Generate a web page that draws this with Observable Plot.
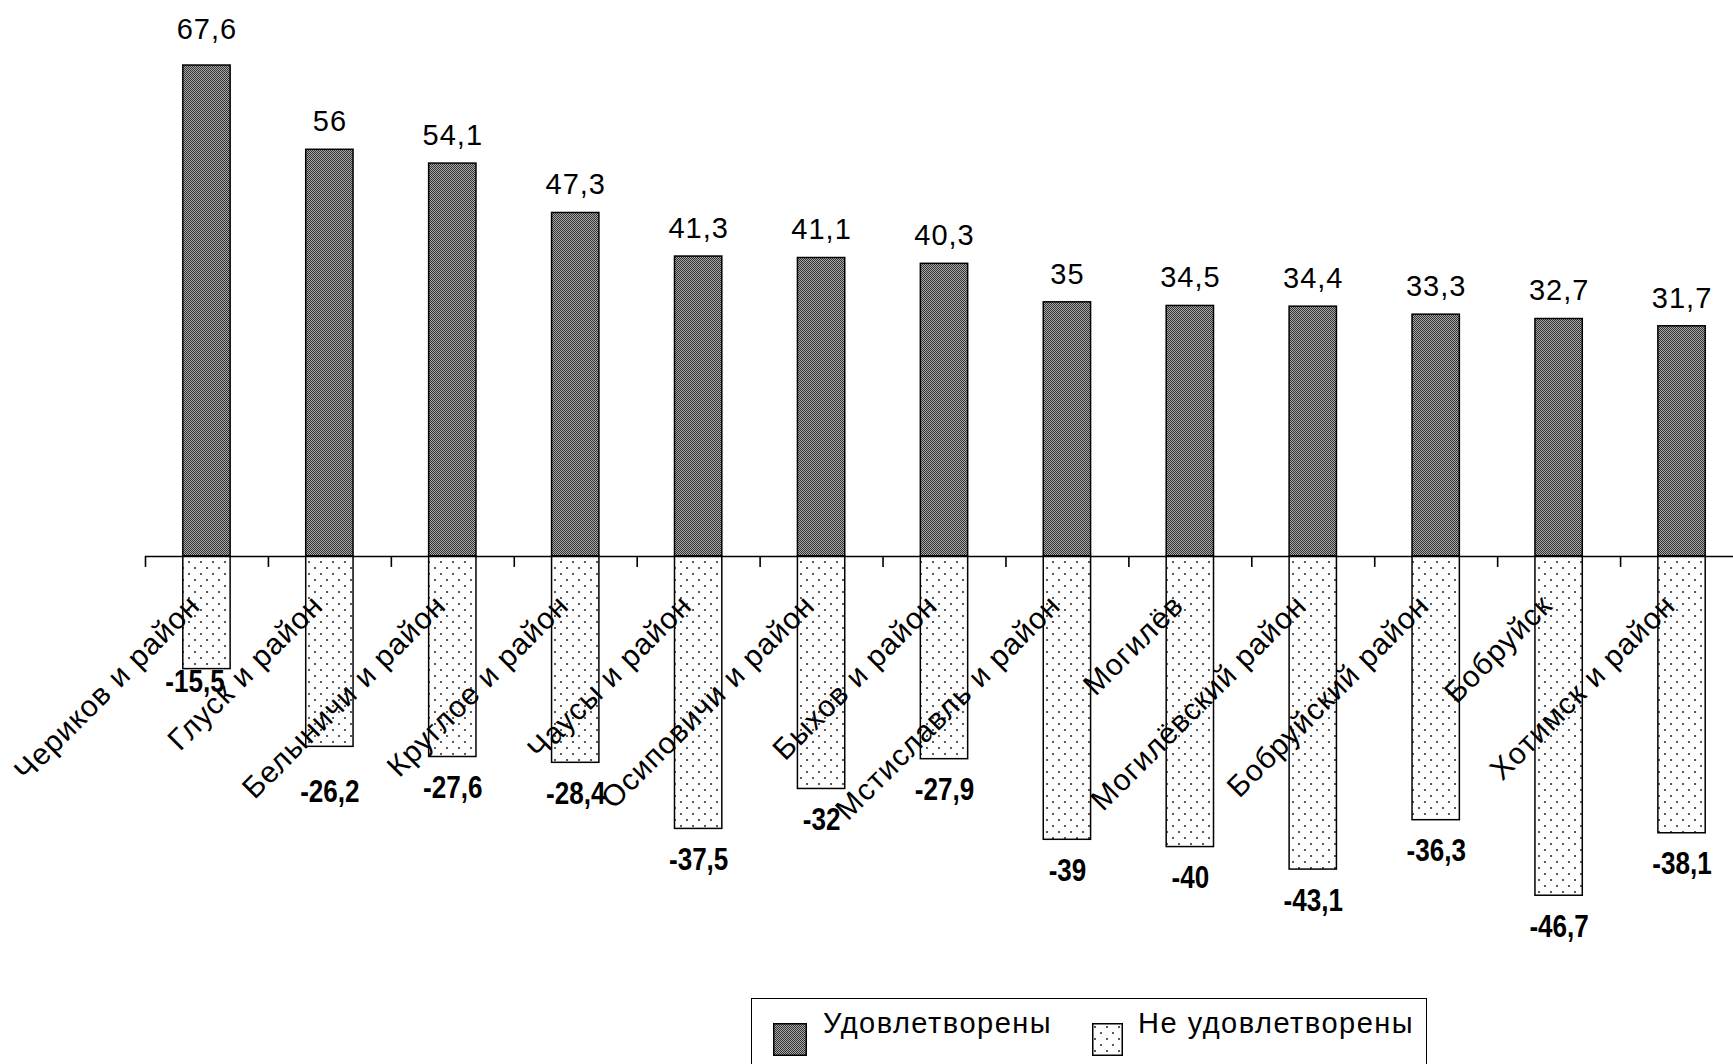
<!DOCTYPE html>
<html>
<head>
<meta charset="utf-8">
<script src="https://cdn.jsdelivr.net/npm/d3@7"></script>
<script src="https://cdn.jsdelivr.net/npm/@observablehq/plot@0.6"></script>
<style>
  html, body { margin: 0; padding: 0; background: #fff; }
  body { width: 1733px; height: 1064px; overflow: hidden; position: relative; font-family: "Liberation Sans", Arial, sans-serif; }
  #chart svg { display: block; }
  #legend { position: absolute; left: 751px; top: 998px; width: 676px; height: 100px; border: 1.5px solid #000; box-sizing: border-box; background: #fff; }
  #legend .sw { position: absolute; top: 24px; width: 34px; height: 33px; }
  #legend .lbl { position: absolute; top: 8px; font-size: 29px; letter-spacing: 1.5px; color: #000; white-space: nowrap; }
</style>
</head>
<body>
<div id="chart"></div>
<div id="legend">
  <svg class="sw" style="left:21px" width="34" height="33"><rect x="0.75" y="0.75" width="32.5" height="31.5" fill="url(#patPos)" stroke="#000" stroke-width="1.5"/></svg>
  <span class="lbl" id="lbl0" style="left:71px"></span>
  <svg class="sw" style="left:340px" width="31" height="33"><rect x="0.75" y="0.75" width="29.5" height="31.5" fill="url(#patNeg)" stroke="#000" stroke-width="1.5"/></svg>
  <span class="lbl" id="lbl1" style="left:386px"></span>
</div>
<script>
// ---- data ----
const categories = ["Чериков и район", "Глуск и район", "Белыничи и район", "Круглое и район", "Чаусы и район", "Осиповичи и район", "Быхов и район", "Мстиславль и район", "Могилёв", "Могилёвский район", "Бобруйский район", "Бобруйск", "Хотимск и район"];
const satisfied = [67.6, 56, 54.1, 47.3, 41.3, 41.1, 40.3, 35, 34.5, 34.4, 33.3, 32.7, 31.7];
const notSatisfied = [-15.5, -26.2, -27.6, -28.4, -37.5, -32, -27.9, -39, -40, -43.1, -36.3, -46.7, -38.1];
const seriesNames = ["Удовлетворены", "Не удовлетворены"];

const rows = categories.map((c, i) => ({cat: c, pos: satisfied[i], neg: notSatisfied[i], i}));
const fmt = v => String(v).replace(".", ",");

const boldFont = "'Liberation Sans', Arial, sans-serif";
const step = 1598 / categories.length;

const chart = Plot.plot({
  width: 1733,
  height: 998,
  marginLeft: 145,
  marginRight: 0,
  marginTop: 0,
  marginBottom: 0,
  x: {domain: categories, range: [145, 1743], paddingInner: 0.615, paddingOuter: 0.3075, round: false, axis: null},
  y: {domain: [-50, 70], range: [919.2, 47.6], axis: null},
  style: {fontFamily: "'Liberation Sans', Arial, sans-serif", fontSize: "28px", color: "#000", background: "#fff", overflow: "hidden"},
  marks: [
    Plot.barY(rows, {x: "cat", y1: 0, y2: "pos", fill: "url(#patPos)", stroke: "#000", strokeWidth: 1.5}),
    Plot.barY(rows, {x: "cat", y1: 0, y2: "neg", fill: "url(#patNeg)", stroke: "#000", strokeWidth: 1.5}),
    Plot.ruleY([0], {stroke: "#000", strokeWidth: 1.6}),
    Plot.ruleX(rows, {x: "cat", y1: 0, y2: -1.5, dx: -step / 2, stroke: "#000", strokeWidth: 1.6}),
    Plot.text(rows, {x: "cat", y: d => 0, text: "cat", rotate: -45, textAnchor: "end", dx: -12, dy: 44, fontSize: 30, fill: "#000"}),
    Plot.text(rows.filter(d => d.i > 0), {x: "cat", y: "pos", text: d => fmt(d.pos), dy: -28, fontSize: 29, fill: "#000"}),
    Plot.text(rows.filter(d => d.i === 0), {x: "cat", y: "pos", text: d => fmt(d.pos), dy: -36, fontSize: 29, fill: "#000"}),
    Plot.text(rows.filter(d => d.i > 1), {x: "cat", y: "neg", text: d => fmt(d.neg), dy: 31, fontSize: 31, fontWeight: "bold", fontFamily: boldFont, fill: "#000"}),
    Plot.text(rows.filter(d => d.i === 0), {x: "cat", y: "neg", text: d => fmt(d.neg), dy: 13, dx: -12, fontSize: 31, fontWeight: "bold", fontFamily: boldFont, fill: "#000"}),
    Plot.text(rows.filter(d => d.i === 1), {x: "cat", y: "neg", text: d => fmt(d.neg), dy: 45, fontSize: 31, fontWeight: "bold", fontFamily: boldFont, fill: "#000"})
  ]
});

// patterns
const svg = d3.select(chart);
const defs = svg.insert("defs", ":first-child");
const pp = defs.append("pattern").attr("id", "patPos").attr("patternUnits", "userSpaceOnUse").attr("width", 2).attr("height", 2);
pp.append("rect").attr("width", 2).attr("height", 2).attr("fill", "#a8a8a8");
pp.append("rect").attr("x", 0).attr("y", 0).attr("width", 1).attr("height", 1).attr("fill", "#333");
pp.append("rect").attr("x", 1).attr("y", 1).attr("width", 1).attr("height", 1).attr("fill", "#333");
const pn = defs.append("pattern").attr("id", "patNeg").attr("patternUnits", "userSpaceOnUse").attr("width", 12).attr("height", 12);
pn.append("rect").attr("width", 12).attr("height", 12).attr("fill", "#fdfdfd");
pn.append("rect").attr("x", 2).attr("y", 3).attr("width", 2).attr("height", 2).attr("fill", "#5a5a5a");
pn.append("rect").attr("x", 8).attr("y", 9).attr("width", 2).attr("height", 2).attr("fill", "#5a5a5a");

document.getElementById("chart").appendChild(chart);

svg.selectAll("text").each(function() {
  const bold = this.parentNode.getAttribute("font-weight") === "bold";
  if (bold) {
    const w = this.getComputedTextLength();
    this.setAttribute("textLength", (w * 0.84).toFixed(1));
    this.setAttribute("lengthAdjust", "spacingAndGlyphs");
  } else {
    this.setAttribute("letter-spacing", "1");
  }
});

document.getElementById("lbl0").textContent = seriesNames[0];
document.getElementById("lbl1").textContent = seriesNames[1];
</script>
</body>
</html>
